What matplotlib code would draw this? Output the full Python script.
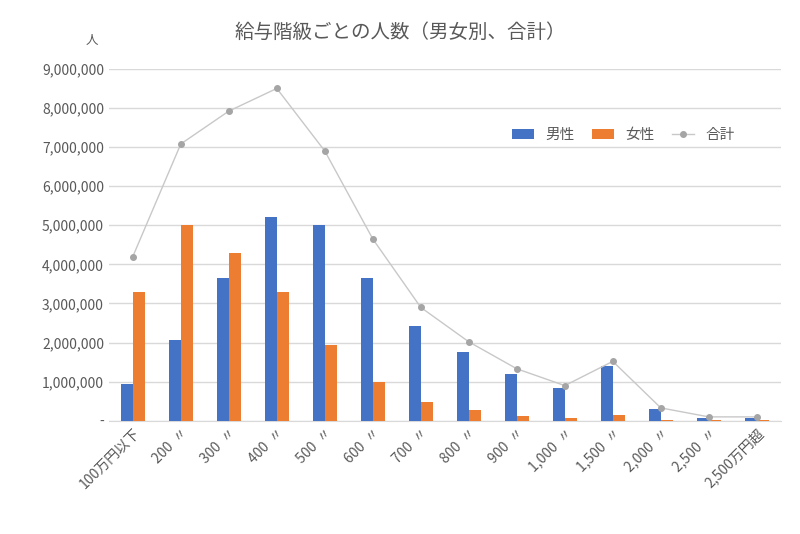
import matplotlib
matplotlib.use("Agg")
import matplotlib.pyplot as plt
import numpy as np
from matplotlib.ticker import FuncFormatter

plt.rcParams["font.family"] = ["Noto Sans CJK JP", "DejaVu Sans"]

categories = ["100万円以下", "200  〃", "300  〃", "400  〃", "500  〃", "600  〃", "700  〃",
              "800  〃", "900  〃", "1,000  〃", "1,500  〃", "2,000  〃", "2,500  〃", "2,500万円超"]
male = [950000, 2070000, 3650000, 5200000, 5000000, 3650000, 2420000, 1750000, 1200000,
        830000, 1400000, 300000, 80000, 80000]
female = [3300000, 5020000, 4300000, 3300000, 1950000, 1000000, 480000, 280000, 130000,
          70000, 150000, 30000, 20000, 10000]
total = [4200000, 7080000, 7920000, 8500000, 6900000, 4650000, 2900000, 2020000, 1330000,
         900000, 1520000, 330000, 100000, 100000]

fig = plt.figure(figsize=(8, 5.34), dpi=100)
ax = fig.add_axes([0.136, 0.212, 0.84, 0.659])
x = np.arange(len(categories))
w = 0.25
b1 = ax.bar(x - w / 2, male, w, color="#4472C4", label="男性", zorder=3)
b2 = ax.bar(x + w / 2, female, w, color="#ED7D31", label="女性", zorder=3)
l1, = ax.plot(x, total, color="#C8C8C8", lw=1, marker="o", ms=4, mfc="#A5A5A5", mec="#A5A5A5",
              label="合計", zorder=4)

ax.set_ylim(0, 9000000)
ax.set_xlim(-0.5, len(categories) - 0.5)
ax.set_yticks(np.arange(0, 9000001, 1000000))
ax.yaxis.set_major_formatter(FuncFormatter(lambda v, p: "-" if v == 0 else f"{int(v):,}"))
ax.grid(axis="y", color="#D9D9D9", lw=1, zorder=0)
for s in ["top", "right", "left"]:
    ax.spines[s].set_visible(False)
ax.spines["bottom"].set_color("#D9D9D9")
ax.tick_params(axis="both", length=0, colors="#595959", labelsize=10)
ax.set_xticks(x)
ax.set_xticklabels(categories, rotation=45, ha="right", rotation_mode="anchor")
fig.text(0.5, 0.94, "給与階級ごとの人数（男女別、合計）", ha="center", va="center",
         fontsize=14, color="#595959")
fig.text(0.115, 0.925, "人", ha="center", va="center", fontsize=9, color="#595959")
ax.legend([b1, b2, l1], ["男性", "女性", "合計"], loc="upper left", bbox_to_anchor=(0.58, 0.87),
          ncol=3, frameon=False, fontsize=10.5, labelcolor="#595959", handlelength=1.5,
          columnspacing=1.2)
fig.savefig("out.png", dpi=100)
